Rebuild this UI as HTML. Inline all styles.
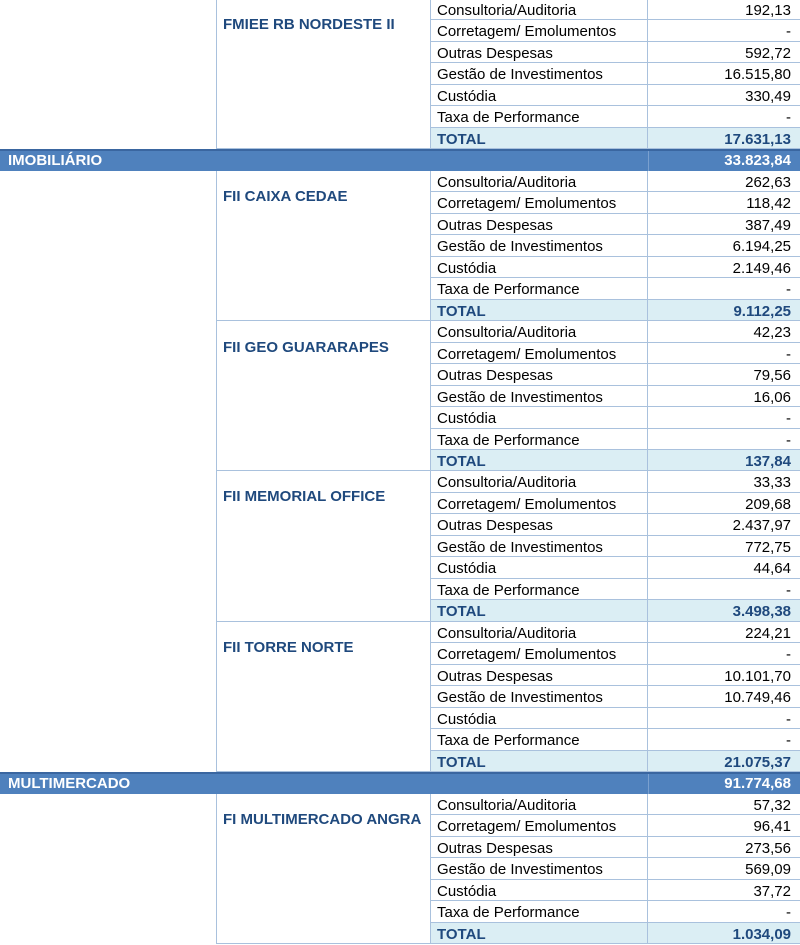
<!DOCTYPE html>
<html><head><meta charset="utf-8"><style>
body{margin:0;width:800px;height:944px;overflow:hidden;background:#fff;font-family:"Liberation Sans",Arial,sans-serif;position:relative}
#t{position:absolute;left:0;top:-1.2px;width:800px}
.r{height:21.49px;position:relative;font-size:15px;color:#000}
.r>div{position:absolute;top:0;height:21.49px;box-sizing:border-box;line-height:20.5px;padding-top:2px}
.a{left:0;width:217px;border-right:1px solid #a9c1dd}
.b{left:217px;width:214px;border-right:1px solid #a9c1dd}
.c{left:431px;width:217px;border-right:1px solid #a9c1dd;border-bottom:1px solid #a9c1dd;padding-left:6px}
.d{left:648px;width:152px;border-bottom:1px solid #a9c1dd;text-align:right;padding-right:9px}
.tot .c,.tot .d{background:#dbeef4;color:#1f497d;font-weight:bold}
.tot .b{border-bottom:1px solid #a9c1dd}
.cat{background:#4f81bd;color:#fff;font-weight:bold;border-top:2px solid #3a66a0;box-sizing:border-box}
.cat>div{height:19.5px;line-height:18px;padding-top:1px}
.cat .n{left:8px}
.cat .v{left:648px;width:152px;text-align:right;padding-right:9px;border-left:1px solid #7aa0cf}
.f{position:absolute;left:223px;font-size:15px;font-weight:bold;color:#1f497d;line-height:16px}
</style></head><body>
<div id="t">
<div class="r"><div class="a"></div><div class="b"></div><div class="c">Consultoria/Auditoria</div><div class="d">192,13</div></div>
<div class="r"><div class="a"></div><div class="b"></div><div class="c">Corretagem/ Emolumentos</div><div class="d">-</div></div>
<div class="r"><div class="a"></div><div class="b"></div><div class="c">Outras Despesas</div><div class="d">592,72</div></div>
<div class="r"><div class="a"></div><div class="b"></div><div class="c">Gestão de Investimentos</div><div class="d">16.515,80</div></div>
<div class="r"><div class="a"></div><div class="b"></div><div class="c">Custódia</div><div class="d">330,49</div></div>
<div class="r"><div class="a"></div><div class="b"></div><div class="c">Taxa de Performance</div><div class="d">-</div></div>
<div class="r tot"><div class="a"></div><div class="b"></div><div class="c">TOTAL</div><div class="d">17.631,13</div></div>
<div class="r cat"><div class="n">IMOBILIÁRIO</div><div class="v">33.823,84</div></div>
<div class="r"><div class="a"></div><div class="b"></div><div class="c">Consultoria/Auditoria</div><div class="d">262,63</div></div>
<div class="r"><div class="a"></div><div class="b"></div><div class="c">Corretagem/ Emolumentos</div><div class="d">118,42</div></div>
<div class="r"><div class="a"></div><div class="b"></div><div class="c">Outras Despesas</div><div class="d">387,49</div></div>
<div class="r"><div class="a"></div><div class="b"></div><div class="c">Gestão de Investimentos</div><div class="d">6.194,25</div></div>
<div class="r"><div class="a"></div><div class="b"></div><div class="c">Custódia</div><div class="d">2.149,46</div></div>
<div class="r"><div class="a"></div><div class="b"></div><div class="c">Taxa de Performance</div><div class="d">-</div></div>
<div class="r tot"><div class="a"></div><div class="b"></div><div class="c">TOTAL</div><div class="d">9.112,25</div></div>
<div class="r"><div class="a"></div><div class="b"></div><div class="c">Consultoria/Auditoria</div><div class="d">42,23</div></div>
<div class="r"><div class="a"></div><div class="b"></div><div class="c">Corretagem/ Emolumentos</div><div class="d">-</div></div>
<div class="r"><div class="a"></div><div class="b"></div><div class="c">Outras Despesas</div><div class="d">79,56</div></div>
<div class="r"><div class="a"></div><div class="b"></div><div class="c">Gestão de Investimentos</div><div class="d">16,06</div></div>
<div class="r"><div class="a"></div><div class="b"></div><div class="c">Custódia</div><div class="d">-</div></div>
<div class="r"><div class="a"></div><div class="b"></div><div class="c">Taxa de Performance</div><div class="d">-</div></div>
<div class="r tot"><div class="a"></div><div class="b"></div><div class="c">TOTAL</div><div class="d">137,84</div></div>
<div class="r"><div class="a"></div><div class="b"></div><div class="c">Consultoria/Auditoria</div><div class="d">33,33</div></div>
<div class="r"><div class="a"></div><div class="b"></div><div class="c">Corretagem/ Emolumentos</div><div class="d">209,68</div></div>
<div class="r"><div class="a"></div><div class="b"></div><div class="c">Outras Despesas</div><div class="d">2.437,97</div></div>
<div class="r"><div class="a"></div><div class="b"></div><div class="c">Gestão de Investimentos</div><div class="d">772,75</div></div>
<div class="r"><div class="a"></div><div class="b"></div><div class="c">Custódia</div><div class="d">44,64</div></div>
<div class="r"><div class="a"></div><div class="b"></div><div class="c">Taxa de Performance</div><div class="d">-</div></div>
<div class="r tot"><div class="a"></div><div class="b"></div><div class="c">TOTAL</div><div class="d">3.498,38</div></div>
<div class="r"><div class="a"></div><div class="b"></div><div class="c">Consultoria/Auditoria</div><div class="d">224,21</div></div>
<div class="r"><div class="a"></div><div class="b"></div><div class="c">Corretagem/ Emolumentos</div><div class="d">-</div></div>
<div class="r"><div class="a"></div><div class="b"></div><div class="c">Outras Despesas</div><div class="d">10.101,70</div></div>
<div class="r"><div class="a"></div><div class="b"></div><div class="c">Gestão de Investimentos</div><div class="d">10.749,46</div></div>
<div class="r"><div class="a"></div><div class="b"></div><div class="c">Custódia</div><div class="d">-</div></div>
<div class="r"><div class="a"></div><div class="b"></div><div class="c">Taxa de Performance</div><div class="d">-</div></div>
<div class="r tot"><div class="a"></div><div class="b"></div><div class="c">TOTAL</div><div class="d">21.075,37</div></div>
<div class="r cat"><div class="n">MULTIMERCADO</div><div class="v">91.774,68</div></div>
<div class="r"><div class="a"></div><div class="b"></div><div class="c">Consultoria/Auditoria</div><div class="d">57,32</div></div>
<div class="r"><div class="a"></div><div class="b"></div><div class="c">Corretagem/ Emolumentos</div><div class="d">96,41</div></div>
<div class="r"><div class="a"></div><div class="b"></div><div class="c">Outras Despesas</div><div class="d">273,56</div></div>
<div class="r"><div class="a"></div><div class="b"></div><div class="c">Gestão de Investimentos</div><div class="d">569,09</div></div>
<div class="r"><div class="a"></div><div class="b"></div><div class="c">Custódia</div><div class="d">37,72</div></div>
<div class="r"><div class="a"></div><div class="b"></div><div class="c">Taxa de Performance</div><div class="d">-</div></div>
<div class="r tot"><div class="a"></div><div class="b"></div><div class="c">TOTAL</div><div class="d">1.034,09</div></div>
</div>
<div class="f" style="top:17px">FMIEE RB NORDESTE II</div>
<div class="f" style="top:189px">FII CAIXA CEDAE</div>
<div class="f" style="top:340px">FII GEO GUARARAPES</div>
<div class="f" style="top:489px">FII MEMORIAL OFFICE</div>
<div class="f" style="top:640px">FII TORRE NORTE</div>
<div class="f" style="top:812px">FI MULTIMERCADO ANGRA</div>
</body></html>
